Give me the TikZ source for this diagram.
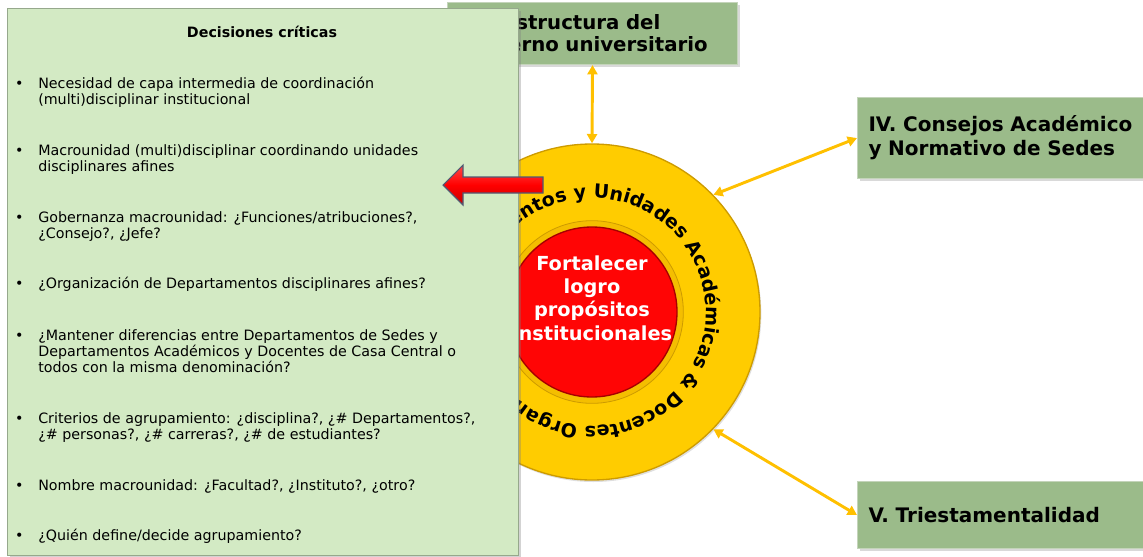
\documentclass[tikz,border=0pt]{standalone}
\usepackage{fontspec}
\setmainfont{DejaVu Sans}
\usetikzlibrary{arrows.meta,shadows,decorations.text}

\definecolor{boxgreen}{RGB}{155,187,138}
\definecolor{boxedge}{RGB}{196,212,186}
\definecolor{panelgreen}{RGB}{211,234,196}
\definecolor{paneledge}{RGB}{150,168,140}
\definecolor{ringyellow}{RGB}{255,204,0}
\definecolor{ringedge}{RGB}{205,155,0}
\definecolor{bevelyellow}{RGB}{244,190,0}
\definecolor{corered}{RGB}{255,5,5}
\definecolor{coreedge}{RGB}{165,0,0}
\definecolor{linkorange}{RGB}{255,192,0}
\definecolor{arrowedge}{RGB}{80,90,115}

\newcommand\ringfont{\bfseries\fontsize{14.3}{14.3}\selectfont}

\tikzset{
  topic/.style={draw=boxedge, fill=boxgreen, line width=0.8pt, inner xsep=8.25pt, inner ysep=0pt,
    align=left, anchor=north west, font=\bfseries\fontsize{15}{18}\selectfont,
    drop shadow={opacity=0.3, shadow xshift=1.5pt, shadow yshift=-1.5pt}},
  link/.style={draw=linkorange, line width=2.2pt, {Triangle[length=7pt,width=7.5pt]}-{Triangle[length=7pt,width=7.5pt]}},
  question/.style={anchor=base west, inner sep=0pt, align=left, font=\fontsize{10.7}{12}\selectfont},
}

\begin{document}
\begin{tikzpicture}[x=0.75pt,y=-0.75pt]
\useasboundingbox (0,0) rectangle (1143,557);

% Box: III (partly under the panel)
\node[topic, text width=202.5pt, minimum height=46.5pt, inner xsep=7.5pt,
      font=\bfseries\fontsize{14.8}{16.5}\selectfont] (gobierno) at (447,2)
  {III.\hspace{0.8em}Estructura del\\Gobierno universitario};

% Shape: ring and core
\node[circle, minimum size=252pt, inner sep=0pt, fill=ringyellow, draw=ringedge, line width=1pt,
      drop shadow={opacity=0.25, shadow xshift=1pt, shadow yshift=-1.5pt}] (ring) at (592,312) {};
\node[circle, minimum size=137pt, inner sep=0pt, fill=bevelyellow, draw=ringedge, line width=0.6pt] (bevel) at (592,312) {};
\node[circle, minimum size=127.5pt, inner sep=0pt, fill=corered, draw=coreedge, line width=1pt] (core) at (592,312) {};
\node[align=center, text=white, inner sep=0pt, font=\bfseries\fontsize{14.5}{17.6}\selectfont] (goal) at (592,298)
  {Fortalecer\\logro\\propósitos\\institucionales};

% Text along the ring
\path[decorate, decoration={text along path, text align=left,
      text={|\ringfont|Departamentos y Unidades Académicas {\&} Docentes Organización}}]
  (ring.center) ++(174:114) arc[start angle=174, end angle=500, radius=114];

% Box: IV and V
\node[topic, text width=203.25pt, minimum height=60.75pt] (consejos) at (857,97)
  {IV. Consejos Académico\\y Normativo de Sedes};
\node[topic, text width=203.25pt, minimum height=50.25pt] (triestamentalidad) at (857,481)
  {V. Triestamentalidad};

% Straight Lines: links
\draw[link] (ring.north) -- (gobierno.south);
\draw[link] (ring.44) -- (consejos.west);
\draw[link] (ring.-44) -- (triestamentalidad.west);

% Shape: panel of decisions
\node[draw=paneledge, fill=panelgreen, line width=0.8pt, anchor=north west, inner sep=0pt,
      minimum width=383.25pt, minimum height=410.25pt,
      drop shadow={opacity=0.35, shadow xshift=1.5pt, shadow yshift=-1.5pt}] (decisiones) at (7,8) {};

% Text Node (base = last line)
\node[anchor=base, inner sep=0pt, font=\bfseries\fontsize{10.7}{12}\selectfont] (titulo) at (262,37) {Decisiones críticas};
\node[question] (q1) at (38,104) {\llap{\textbullet\hspace{11pt}}Necesidad de capa intermedia de coordinación\\(multi)disciplinar institucional};
\node[question] (q2) at (38,171) {\llap{\textbullet\hspace{11pt}}Macrounidad (multi)disciplinar coordinando unidades\\disciplinares afines};
\node[question] (q3) at (38,238) {\llap{\textbullet\hspace{11pt}}Gobernanza macrounidad: ¿Funciones/atribuciones?,\\¿Consejo?, ¿Jefe?};
\node[question] (q4) at (38,288) {\llap{\textbullet\hspace{11pt}}¿Organización de Departamentos disciplinares afines?};
\node[question] (q5) at (38,372) {\llap{\textbullet\hspace{11pt}}¿Mantener diferencias entre Departamentos de Sedes y\\Departamentos Académicos y Docentes de Casa Central o\\todos con la misma denominación?};
\node[question] (q6) at (38,439) {\llap{\textbullet\hspace{11pt}}Criterios de agrupamiento: ¿disciplina?, ¿\# Departamentos?,\\¿\# personas?, ¿\# carreras?, ¿\# de estudiantes?};
\node[question] (q7) at (38,490) {\llap{\textbullet\hspace{11pt}}Nombre macrounidad: ¿Facultad?, ¿Instituto?, ¿otro?};
\node[question] (q8) at (38,540) {\llap{\textbullet\hspace{11pt}}¿Quién define/decide agrupamiento?};

% Shape: block arrow pointing at the panel
\draw[draw=arrowedge, line width=0.8pt, top color={rgb,255:red,255;green,70;blue,70}, bottom color={rgb,255:red,200;green,0;blue,0}, middle color=red]
  (443,185) -- (463,165) -- (463,177) -- (543,177) -- (543,193) -- (463,193) -- (463,205) -- cycle;

\end{tikzpicture}
\end{document}
